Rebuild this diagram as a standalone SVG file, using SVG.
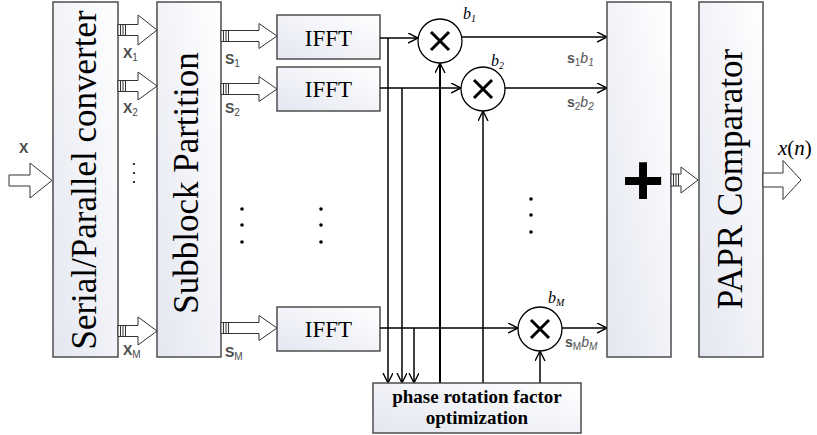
<svg xmlns="http://www.w3.org/2000/svg" width="817" height="435" viewBox="0 0 817 435">
<defs>
<linearGradient id="g" x1="0" y1="1" x2="1" y2="0">
<stop offset="0" stop-color="#e4e7f1"/>
<stop offset="1" stop-color="#ffffff"/>
</linearGradient>
<marker id="ah" markerUnits="userSpaceOnUse" markerWidth="12" markerHeight="12" refX="10" refY="5" orient="auto">
<path d="M0,0 L10,5 L0,10" fill="none" stroke="#000" stroke-width="1.4"/>
</marker>
<style>
.box{fill:url(#g);stroke:#4d4d4d;stroke-width:1.5}
.big{font-family:"Liberation Serif","Times New Roman",serif;font-size:35px;fill:#000}
.ifft{font-family:"Liberation Serif","Times New Roman",serif;font-size:23px;fill:#000;text-anchor:middle}
.fat{fill:#fff;stroke:#333;stroke-width:1}
.hatch{stroke:#333;stroke-width:1}
.ln{fill:none;stroke:#000;stroke-width:1.5;marker-end:url(#ah)}
.lbl{font-family:"Liberation Sans",Arial,sans-serif;font-size:14px;font-weight:bold;fill:#4a4a4a}
.sub{font-size:10px;font-weight:normal}
.sb{font-family:"Liberation Sans",Arial,sans-serif;font-size:14px;fill:#555}
.bl{font-family:"Liberation Serif","Times New Roman",serif;font-size:16px;font-style:italic;fill:#000}
.circ{fill:#fff;stroke:#000;stroke-width:1.3}
.cross{stroke:#000;stroke-width:3}
.dot{fill:#000}
</style>
</defs>

<g id="input-arrow">
<polygon class="fat" points="9,175 30,175 30,163 52,180.5 30,198 30,186 9,186"/>
<text class="lbl" x="19" y="153">X</text>
</g>

<g id="sp-converter">
<rect class="box" x="53" y="2" width="65" height="355"/>
<text class="big" transform="translate(96,180) rotate(-90)" text-anchor="middle">Serial/Parallel converter</text>
</g>

<g id="subblock-partition">
<rect class="box" x="157" y="2" width="64" height="355"/>
<text class="big" transform="translate(198,183) rotate(-90)" text-anchor="middle">Subblock Partition</text>
</g>

<g id="x-arrows">
<polygon class="fat" points="118,24.5 138,24.5 138,15 157,30 138,45 138,35.5 118,35.5"/>
<path class="hatch" d="M120.5,24.5V35.5M123,24.5V35.5M125.5,24.5V35.5"/>
<polygon class="fat" points="118,80.5 138,80.5 138,72 157,86 138,100 138,91.5 118,91.5"/>
<path class="hatch" d="M120.5,80.5V91.5M123,80.5V91.5M125.5,80.5V91.5"/>
<polygon class="fat" points="118,325.5 138,325.5 138,317 157,331 138,345 138,336.5 118,336.5"/>
<path class="hatch" d="M120.5,325.5V336.5M123,325.5V336.5M125.5,325.5V336.5"/>
<text class="lbl" x="123" y="58">X<tspan class="sub" dy="3">1</tspan></text>
<text class="lbl" x="123" y="113">X<tspan class="sub" dy="3">2</tspan></text>
<text class="lbl" x="123" y="355">X<tspan class="sub" dy="3">M</tspan></text>
<circle class="dot" cx="134" cy="164" r="1.1"/>
<circle class="dot" cx="134" cy="173" r="1.1"/>
<circle class="dot" cx="134" cy="182" r="1.1"/>
</g>

<g id="s-arrows">
<polygon class="fat" points="221,30.5 259,30.5 259,23.5 277,36 259,48.5 259,41.5 221,41.5"/>
<path class="hatch" d="M223.5,30.5V41.5M226,30.5V41.5M228.5,30.5V41.5"/>
<polygon class="fat" points="221,83.5 259,83.5 259,76.5 277,89 259,101.5 259,94.5 221,94.5"/>
<path class="hatch" d="M223.5,83.5V94.5M226,83.5V94.5M228.5,83.5V94.5"/>
<polygon class="fat" points="221,322.5 259,322.5 259,315.5 277,328 259,340.5 259,333.5 221,333.5"/>
<path class="hatch" d="M223.5,322.5V333.5M226,322.5V333.5M228.5,322.5V333.5"/>
<text class="lbl" x="225" y="64">S<tspan class="sub" dy="3">1</tspan></text>
<text class="lbl" x="225" y="113">S<tspan class="sub" dy="3">2</tspan></text>
<text class="lbl" x="225" y="357">S<tspan class="sub" dy="3">M</tspan></text>
</g>

<g id="ifft1">
<rect class="box" x="277" y="15" width="103" height="44"/>
<text class="ifft" x="328.5" y="45.5">IFFT</text>
</g>
<g id="ifft2">
<rect class="box" x="277" y="67" width="103" height="44"/>
<text class="ifft" x="328.5" y="97">IFFT</text>
</g>
<g id="ifft3">
<rect class="box" x="277" y="307" width="103" height="44"/>
<text class="ifft" x="328.5" y="337">IFFT</text>
</g>

<g id="dots-mid">
<circle class="dot" cx="242" cy="209" r="1.8"/>
<circle class="dot" cx="242" cy="225" r="1.8"/>
<circle class="dot" cx="242" cy="242" r="1.8"/>
<circle class="dot" cx="321" cy="209" r="1.8"/>
<circle class="dot" cx="321" cy="225" r="1.8"/>
<circle class="dot" cx="321" cy="242" r="1.8"/>
<circle class="dot" cx="531" cy="199" r="1.8"/>
<circle class="dot" cx="531" cy="215" r="1.8"/>
<circle class="dot" cx="531" cy="232" r="1.8"/>
</g>

<g id="connectors">
<path class="ln" d="M380,38H418"/>
<path class="ln" d="M388,38V383"/>
<path class="ln" d="M462,37H607"/>
<path class="ln" d="M380,88H461"/>
<path class="ln" d="M402,88V383"/>
<path class="ln" d="M505,88H607"/>
<path class="ln" d="M380,328H518"/>
<path class="ln" d="M414,328V383"/>
<path class="ln" d="M562,328H607"/>
<path class="ln" d="M440,383V63" style="stroke-width:2"/>
<path class="ln" d="M483,383V111"/>
<path class="ln" d="M540,383V351"/>
</g>

<g id="mult1">
<circle class="circ" cx="440" cy="41" r="22"/>
<path class="cross" d="M431,32L449,50M449,32L431,50"/>
<text class="bl" x="463" y="19">b<tspan font-size="10px" dy="3">1</tspan></text>
</g>
<g id="mult2">
<circle class="circ" cx="483" cy="89" r="22"/>
<path class="cross" d="M474,80L492,98M492,80L474,98"/>
<text class="bl" x="491" y="66">b<tspan font-size="10px" dy="3">2</tspan></text>
</g>
<g id="multM">
<circle class="circ" cx="540" cy="329" r="22"/>
<path class="cross" d="M531,320L549,338M549,320L531,338"/>
<text class="bl" x="548" y="303">b<tspan font-size="10px" dy="3">M</tspan></text>
</g>

<g id="out-labels">
<text class="sb" x="567" y="63"><tspan font-weight="bold">s</tspan><tspan font-size="10px" dy="3">1</tspan><tspan font-style="italic" dy="-3">b</tspan><tspan font-style="italic" font-size="10px" dy="3">1</tspan></text>
<text class="sb" x="567" y="107"><tspan font-weight="bold">s</tspan><tspan font-size="10px" dy="3">2</tspan><tspan font-style="italic" dy="-3">b</tspan><tspan font-style="italic" font-size="10px" dy="3">2</tspan></text>
<text class="sb" x="565" y="347"><tspan font-weight="bold">s</tspan><tspan font-size="10px" dy="3">M</tspan><tspan font-style="italic" dy="-3">b</tspan><tspan font-style="italic" font-size="10px" dy="3">M</tspan></text>
</g>

<g id="phase-opt">
<rect class="box" x="373" y="383" width="208" height="50"/>
<text x="477" y="403" text-anchor="middle" font-family="'Liberation Serif','Times New Roman',serif" font-size="19" font-weight="bold">phase rotation factor</text>
<text x="477" y="424" text-anchor="middle" font-family="'Liberation Serif','Times New Roman',serif" font-size="19" font-weight="bold">optimization</text>
</g>

<g id="adder">
<rect class="box" x="607" y="2" width="64" height="355"/>
<text x="643" y="205" text-anchor="middle" font-family="'Liberation Sans',Arial,sans-serif" font-size="72" font-weight="bold">+</text>
</g>

<g id="sum-arrow">
<polygon class="fat" points="671,174 681,174 681,167 698,180 681,193 681,186 671,186"/>
<path class="hatch" d="M673.5,174V186M676,174V186M678.5,174V186"/>
</g>

<g id="papr">
<rect class="box" x="699" y="2" width="64" height="355"/>
<text class="big" transform="translate(742,179) rotate(-90)" text-anchor="middle">PAPR Comparator</text>
</g>

<g id="output-arrow">
<polygon class="fat" points="763,173 783,173 783,160.5 801,180 783,199.5 783,187 763,187"/>
<text x="778" y="155" font-family="'Liberation Serif','Times New Roman',serif" font-size="21" font-style="italic">x<tspan font-style="normal">(</tspan>n<tspan font-style="normal">)</tspan></text>
</g>
</svg>
